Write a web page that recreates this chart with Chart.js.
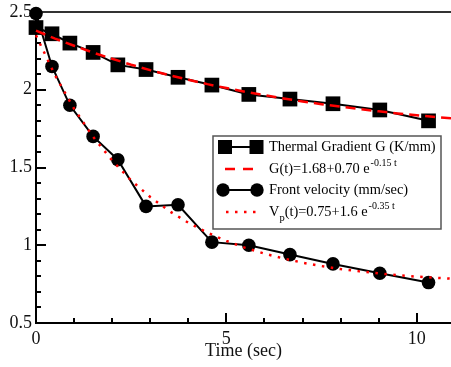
<!DOCTYPE html>
<html><head><meta charset="utf-8">
<script src="https://cdn.jsdelivr.net/npm/chart.js@4.4.1/dist/chart.umd.min.js"></script>
<style>html,body{margin:0;padding:0;background:#fff}#wrap{width:451px;height:367px;position:relative}</style>
</head><body><div id="wrap"><canvas id="c"></canvas></div>
<script>
// ---- data ----
const times = [0, 0.42, 0.89, 1.50, 2.15, 2.89, 3.73, 4.62, 5.59, 6.67, 7.80, 9.03, 10.31];
const gradientG = [2.40, 2.36, 2.30, 2.24, 2.16, 2.13, 2.08, 2.03, 1.97, 1.94, 1.91, 1.87, 1.80];
const velocity = [2.49, 2.15, 1.90, 1.70, 1.55, 1.25, 1.26, 1.02, 1.00, 0.94, 0.88, 0.82, 0.76];
const fitTimes = [0, 0.5, 1, 1.5, 2, 2.5, 3, 3.5, 4, 4.5, 5, 5.5, 6, 6.5, 7, 7.5, 8, 8.5, 9, 9.5, 10, 10.5, 11];
const fitG = [2.380, 2.329, 2.283, 2.239, 2.199, 2.161, 2.126, 2.094, 2.064, 2.036, 2.011, 1.987, 1.965, 1.944, 1.925, 1.907, 1.891, 1.876, 1.861, 1.848, 1.836, 1.825, 1.814];
const fitV = [2.350, 2.093, 1.878, 1.697, 1.545, 1.417, 1.310, 1.220, 1.145, 1.081, 1.028, 0.983, 0.946, 0.915, 0.888, 0.866, 0.847, 0.832, 0.819, 0.808, 0.798, 0.791, 0.784];
const xTickValues = [0, 5, 10];
const xTickLabels = ['0', '5', '10'];
const yTickValues = [0.5, 1, 1.5, 2, 2.5];
const yTickLabels = ['0.5', '1', '1.5', '2', '2.5'];
const xTitle = 'Time (sec)';
const legendRows = [
  [{t: 'Thermal Gradient G (K/mm)'}],
  [{t: 'G(t)=1.68+0.70 e'}, {t: '-0.15 t', sup: true}],
  [{t: 'Front velocity (mm/sec)'}],
  [{t: 'V'}, {t: 'p', sub: true}, {t: '(t)=0.75+1.6 e'}, {t: '-0.35 t', sup: true}]
];

const pts = (xs, ys) => xs.map((x, i) => ({x: x, y: ys[i]}));
const FONT = "'Liberation Serif', 'Times New Roman', serif";
Chart.defaults.font.family = FONT;
Chart.defaults.color = '#111';

const decor = {
  id: 'decor',
  beforeDatasetsDraw(chart) {
    const {ctx, chartArea: a, scales: {x, y}} = chart;
    ctx.save();
    ctx.strokeStyle = '#333'; ctx.lineWidth = 2;
    ctx.beginPath(); ctx.moveTo(a.left, a.top); ctx.lineTo(chart.width, a.top); ctx.stroke();
    ctx.strokeStyle = '#000'; ctx.lineWidth = 2;
    ctx.beginPath();
    for (let v = 1; v <= 10; v++) {
      const px = Math.round(x.getPixelForValue(v));
      const len = v % 5 === 0 ? 10 : 5;
      ctx.moveTo(px, a.bottom); ctx.lineTo(px, a.bottom - len);
    }
    for (let i = 6; i <= 24; i++) {
      const py = Math.round(y.getPixelForValue(i / 10));
      const len = i % 5 === 0 ? 10 : 5;
      ctx.moveTo(a.left, py); ctx.lineTo(a.left + len, py);
    }
    ctx.stroke();
    ctx.restore();
  },
  afterDraw(chart) {
    const ctx = chart.ctx;
    ctx.save();
    const bx = 213, by = 136, bw = 228, bh = 93;
    ctx.fillStyle = '#fff';
    ctx.fillRect(bx, by, bw, bh);
    ctx.strokeStyle = '#555'; ctx.lineWidth = 1.5;
    ctx.strokeRect(bx, by, bw, bh);
    const rowY = [147, 169, 190, 212];
    ctx.strokeStyle = '#000'; ctx.lineWidth = 2;
    ctx.beginPath(); ctx.moveTo(225, rowY[0]); ctx.lineTo(256, rowY[0]); ctx.stroke();
    ctx.fillStyle = '#000';
    ctx.fillRect(225 - 7, rowY[0] - 7, 14, 14);
    ctx.fillRect(256.5 - 7, rowY[0] - 7, 14, 14);
    ctx.strokeStyle = '#ff0000'; ctx.lineWidth = 2.5; ctx.setLineDash([10, 8]);
    ctx.beginPath(); ctx.moveTo(225, rowY[1]); ctx.lineTo(255, rowY[1]); ctx.stroke();
    ctx.setLineDash([]);
    ctx.strokeStyle = '#000'; ctx.lineWidth = 2;
    ctx.beginPath(); ctx.moveTo(223, rowY[2]); ctx.lineTo(257, rowY[2]); ctx.stroke();
    ctx.beginPath(); ctx.arc(223, rowY[2], 6.7, 0, Math.PI * 2); ctx.fill();
    ctx.beginPath(); ctx.arc(257, rowY[2], 6.7, 0, Math.PI * 2); ctx.fill();
    ctx.strokeStyle = '#ff0000'; ctx.lineWidth = 2.5; ctx.setLineDash([2.5, 6.5]);
    ctx.beginPath(); ctx.moveTo(226, rowY[3]); ctx.lineTo(258, rowY[3]); ctx.stroke();
    ctx.setLineDash([]);
    ctx.fillStyle = '#000';
    ctx.textBaseline = 'middle';
    legendRows.forEach((segs, r) => {
      let x = 269;
      segs.forEach(s => {
        let dy = 0;
        if (s.sup) { ctx.font = '10px ' + FONT; dy = -6; x += 1; }
        else if (s.sub) { ctx.font = '10.5px ' + FONT; dy = 6; }
        else { ctx.font = '14.4px ' + FONT; }
        ctx.fillText(s.t, x, rowY[r] + dy);
        x += ctx.measureText(s.t).width;
      });
    });
    ctx.restore();
  }
};

new Chart(document.getElementById('c'), {
  type: 'line',
  data: {
    datasets: [
      {label: 'G fit', data: pts(fitTimes, fitG), borderColor: '#ff0000', borderWidth: 2.5,
       borderDash: [10, 6], pointRadius: 0, tension: 0, order: 0, clip: false},
      {label: 'Vp fit', data: pts(fitTimes, fitV), borderColor: '#ff0000', borderWidth: 2.5,
       borderDash: [2.5, 6.5], pointRadius: 0, tension: 0, order: 0, clip: false},
      {label: 'Thermal Gradient G (K/mm)', data: pts(times, gradientG), borderColor: '#000', borderWidth: 2,
       pointStyle: 'rect', pointRadius: 10.4, pointBackgroundColor: '#000', pointBorderColor: '#000',
       pointBorderWidth: 0, order: 1, clip: false},
      {label: 'Front velocity (mm/sec)', data: pts(times, velocity), borderColor: '#000', borderWidth: 2,
       pointStyle: 'circle', pointRadius: 6.8, pointBackgroundColor: '#000', pointBorderColor: '#000',
       pointBorderWidth: 0, order: 1, clip: false}
    ]
  },
  options: {
    responsive: true, maintainAspectRatio: false, animation: false,
    layout: {autoPadding: false, padding: {top: 12, left: 0, right: 0, bottom: 0}},
    plugins: {legend: {display: false}, tooltip: {enabled: false}},
    scales: {
      x: {
        type: 'linear', min: 0, max: 10.9,
        grid: {display: false, drawTicks: false},
        border: {display: true, color: '#000', width: 2},
        afterBuildTicks: s => { s.ticks = xTickValues.map(v => ({value: v})); },
        afterFit: s => { s.height = 44; s.paddingLeft = 0; s.paddingRight = 0; },
        ticks: {font: {size: 18}, color: '#111', padding: 5, maxRotation: 0,
          callback: v => xTickLabels[xTickValues.indexOf(v)]},
        title: {display: true, text: xTitle, font: {size: 18}, color: '#111', padding: {top: 0, bottom: 5}}
      },
      y: {
        type: 'linear', min: 0.5, max: 2.5,
        grid: {display: false, drawTicks: false},
        border: {display: true, color: '#000', width: 2},
        afterBuildTicks: s => { s.ticks = yTickValues.map(v => ({value: v})); },
        afterFit: s => { s.width = 36; s.paddingTop = 0; s.paddingBottom = 0; },
        ticks: {font: {size: 18}, color: '#111', padding: 4,
          callback: v => yTickLabels[yTickValues.indexOf(v)]}
      }
    }
  },
  plugins: [decor]
});
</script>
</body></html>
